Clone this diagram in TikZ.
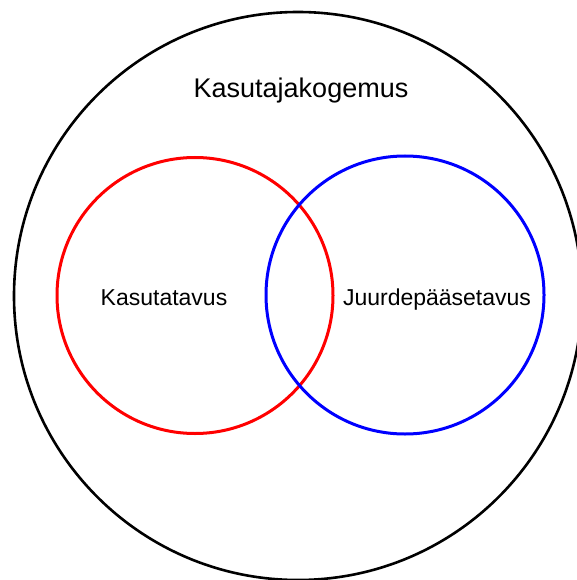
\documentclass[tikz,border=0pt]{standalone}
\usepackage{fontspec}
\setmainfont{Liberation Sans}
\begin{document}
\begin{tikzpicture}[x=1pt,y=-1pt,
  ring/.style={circle,line width=2.6pt,inner sep=0pt,minimum size=#1},
  lbl/.style={anchor=base,inner sep=0pt}]
\useasboundingbox (0,0) rectangle (576,580);
\fill[white] (0,0) rectangle (576,580);
\node[ring=568pt,draw=black] (outer) at (298,296) {};
\node[ring=276pt,draw=red,line width=3pt] (usab) at (195,295.5) {};
\node[ring=278pt,draw=blue,line width=3pt] (acc) at (405,295) {};
\node[lbl,font=\fontsize{27}{31}\selectfont] (ux) at (301,98) {Kasutajakogemus};
\node[lbl,font=\fontsize{23}{27}\selectfont] (usabt) at (164,305) {Kasutatavus};
\node[lbl,font=\fontsize{23}{27}\selectfont] (acct) at (437,305) {Juurdepääsetavus};
\end{tikzpicture}
\end{document}
